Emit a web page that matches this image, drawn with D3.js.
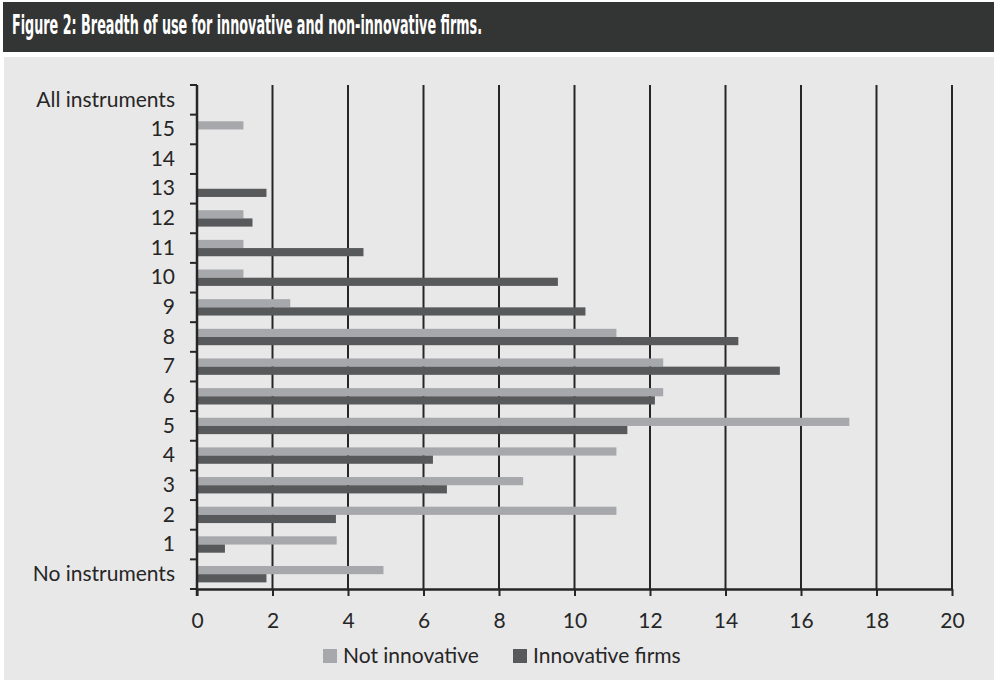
<!DOCTYPE html>
<html>
<head>
<meta charset="utf-8">
<script src="https://cdn.jsdelivr.net/npm/d3@7"></script>
<style>
  body { margin: 0; background: #ffffff; }
  svg { display: block; }
</style>
</head>
<body>
<div class="chart-container"></div>
<script>
const svgWidth = 994;
const svgHeight = 680;

// categories from bottom to top
const categories = ["No instruments", "1", "2", "3", "4", "5", "6", "7", "8", "9", "10", "11", "12", "13", "14", "15", "All instruments"];
const seriesNames = ["Not innovative", "Innovative firms"];
const notInnovative = [4.94, 3.70, 11.11, 8.64, 11.11, 17.28, 12.35, 12.35, 11.11, 2.47, 1.23, 1.23, 1.23, 0, 0, 1.23, 0];
const innovative = [1.84, 0.74, 3.68, 6.62, 6.25, 11.40, 12.13, 15.44, 14.34, 10.29, 9.56, 4.41, 1.47, 1.84, 0, 0, 0];
const xTicks = [0, 2, 4, 6, 8, 10, 12, 14, 16, 18, 20];
const titleText = "Figure 2: Breadth of use for innovative and non-innovative firms.";

const colors = { "Not innovative": "#a7a8ab", "Innovative firms": "#58595b" };
const lineColor = "#262626";
const labelFont = "Lato, 'Open Sans', sans-serif";
const labelSize = "21px";

const plot = { left: 197, right: 952, top: 85, bottom: 589 };

const svg = d3.select(".chart-container")
  .append("svg")
  .attr("id", "svg-element")
  .attr("width", svgWidth)
  .attr("height", svgHeight);

// title bar
svg.append("rect")
  .attr("x", 3).attr("y", 2)
  .attr("width", svgWidth - 3).attr("height", 50)
  .style("fill", "#333534");

svg.append("text")
  .attr("x", 12)
  .attr("y", 34)
  .attr("textLength", 470)
  .attr("lengthAdjust", "spacingAndGlyphs")
  .style("font-family", "'DejaVu Sans Condensed', 'DejaVu Sans', sans-serif")
  .style("font-weight", "bold")
  .style("font-size", "27px")
  .style("fill", "#ffffff")
  .text(titleText);

// chart panel
svg.append("rect")
  .attr("x", 4).attr("y", 57)
  .attr("width", svgWidth - 4).attr("height", svgHeight - 57)
  .style("fill", "#e8e8e8");

const xScale = d3.scaleLinear()
  .domain([0, 20])
  .range([plot.left, plot.right]);

const yScale = d3.scaleBand()
  .domain(categories)
  .range([plot.bottom, plot.top])
  .paddingInner(0)
  .paddingOuter(0);

const innerScale = d3.scaleBand()
  .domain(seriesNames)
  .range([0, yScale.bandwidth()])
  .paddingInner(0)
  .paddingOuter(0.81);

const data = categories.map(function(c, i) {
  return { cat: c, values: [
    { name: seriesNames[0], v: notInnovative[i] },
    { name: seriesNames[1], v: innovative[i] }
  ] };
});

// vertical gridlines
svg.append("g")
  .selectAll("line")
  .data(xTicks.filter(function(d) { return d > 0; }))
  .enter().append("line")
  .attr("x1", function(d) { return xScale(d); })
  .attr("x2", function(d) { return xScale(d); })
  .attr("y1", plot.top)
  .attr("y2", plot.bottom)
  .style("stroke", lineColor)
  .style("stroke-width", 2);

// bars: "Not innovative" sits above "Innovative firms" inside each band
const groups = svg.append("g")
  .selectAll("g")
  .data(data)
  .enter().append("g")
  .attr("transform", function(d) { return "translate(0," + yScale(d.cat) + ")"; });

groups.selectAll("rect")
  .data(function(d) { return d.values.filter(function(e) { return e.v > 0; }); })
  .enter().append("rect")
  .attr("x", xScale(0))
  .attr("y", function(d) { return innerScale(d.name); })
  .attr("width", function(d) { return xScale(d.v) - xScale(0); })
  .attr("height", innerScale.bandwidth())
  .style("fill", function(d) { return colors[d.name]; });

// x axis
const xAxis = d3.axisBottom(xScale)
  .tickValues(xTicks)
  .tickSize(7)
  .tickPadding(17)
  .tickSizeOuter(0);

const gx = svg.append("g")
  .attr("transform", "translate(0," + plot.bottom + ")")
  .call(xAxis);
gx.select(".domain").style("stroke", lineColor).style("stroke-width", 2.5);
gx.selectAll(".tick line").style("stroke", lineColor).style("stroke-width", 2);
gx.selectAll(".tick text")
  .style("font-family", labelFont)
  .style("font-size", labelSize)
  .style("fill", "#262626");

// y axis: labels centred on bands, ticks at band boundaries
const yAxis = d3.axisLeft(yScale)
  .tickSize(0)
  .tickPadding(22);

const gy = svg.append("g")
  .attr("transform", "translate(" + plot.left + ",0)")
  .call(yAxis);
gy.select(".domain").remove();
gy.selectAll(".tick text")
  .style("font-family", labelFont)
  .style("font-size", labelSize)
  .style("fill", "#262626");

const boundaries = categories.map(function(c) { return yScale(c) + yScale.bandwidth(); })
  .concat([yScale(categories[categories.length - 1])]);

svg.append("g")
  .selectAll("line")
  .data(boundaries)
  .enter().append("line")
  .attr("x1", plot.left - 7)
  .attr("x2", plot.left)
  .attr("y1", function(d) { return d; })
  .attr("y2", function(d) { return d; })
  .style("stroke", lineColor)
  .style("stroke-width", 2);

svg.append("line")
  .attr("x1", plot.left).attr("x2", plot.left)
  .attr("y1", plot.top).attr("y2", plot.bottom + 7)
  .style("stroke", lineColor)
  .style("stroke-width", 2.5);

// legend
const legendItems = [
  { name: seriesNames[0], x: 323 },
  { name: seriesNames[1], x: 513 }
];

const legend = svg.append("g")
  .selectAll("g")
  .data(legendItems)
  .enter().append("g")
  .attr("transform", function(d) { return "translate(" + d.x + ",649)"; });

legend.append("rect")
  .attr("width", 14)
  .attr("height", 14)
  .style("fill", function(d) { return colors[d.name]; });

legend.append("text")
  .attr("x", 20)
  .attr("y", 14)
  .style("font-family", labelFont)
  .style("font-size", labelSize)
  .style("fill", "#262626")
  .text(function(d) { return d.name; });
</script>
</body>
</html>
